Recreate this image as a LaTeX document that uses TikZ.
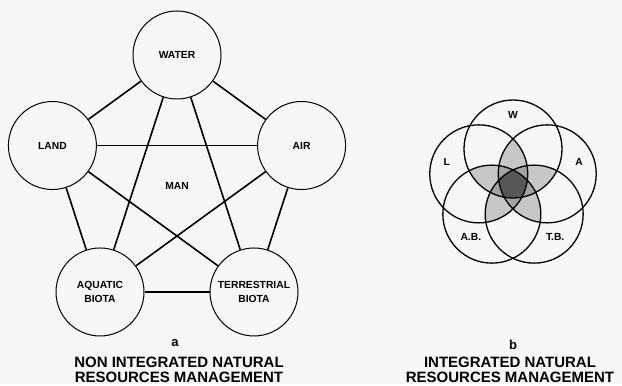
\documentclass[tikz,border=0pt]{standalone}
\usepackage{fontspec}
\setmainfont{Liberation Sans}
\usetikzlibrary{calc}

\begin{document}
\begin{tikzpicture}[x=1pt, y=1pt,
  every node/.style={font=\bfseries\fontsize{10.3}{14.5}\selectfont},
  res/.style={circle, draw, line width=1pt, minimum size=88pt, inner sep=0pt, align=center},
  link/.style={line width=1.6pt},
  ring/.style={line width=1.3pt},
  caption/.style={align=center, font=\bfseries\fontsize{15}{15}\selectfont}
]
\fill[black!3] (0,0) rectangle (622,384);

% a: non integrated
\node (man) at (177,198) {MAN};
\node [res] (water) at ($(man)+(90:131)$) {WATER};
\node [res] (land) at ($(man)+(162:131)$) {LAND};
\node [res] (air) at ($(man)+(18:131)$) {AIR};
\node [res] (aquatic) at ($(man)+(234:131)$) {AQUATIC\\BIOTA};
\node [res] (terrestrial) at ($(man)+(306:131)$) {TERRESTRIAL\\BIOTA};

\draw[link] (water) -- (land);
\draw[link] (water) -- (air);
\draw[link] (land) -- (aquatic);
\draw[link] (air) -- (terrestrial);
\draw[link] (aquatic) -- (terrestrial);
\draw[link] (land) -- (air);
\draw[link] (water) -- (aquatic);
\draw[link] (water) -- (terrestrial);
\draw[link] (land) -- (terrestrial);
\draw[link] (air) -- (aquatic);

\node (taga) at (175,41) {\fontsize{13}{15}\selectfont a};
\node [caption] (capa) at (179,14.5) {NON INTEGRATED NATURAL\\RESOURCES MANAGEMENT};

% b: integrated
\coordinate (venn) at (513,199);
\coordinate (w) at ($(venn)+(90:36)$);
\coordinate (l) at ($(venn)+(162:36)$);
\coordinate (a) at ($(venn)+(18:36)$);
\coordinate (ab) at ($(venn)+(234:36)$);
\coordinate (tb) at ($(venn)+(306:36)$);

\foreach \i/\j/\k in {w/l/a, w/l/ab, w/l/tb, w/a/ab, w/a/tb,
                      w/ab/tb, l/a/ab, l/a/tb, l/ab/tb, a/ab/tb} {
  \begin{scope}
    \clip (\i) circle (49pt);
    \clip (\j) circle (49pt);
    \fill[black!22] (\k) circle (49pt);
  \end{scope}
}
\foreach \i/\j/\k/\m in {l/a/ab/tb, w/a/ab/tb, w/l/ab/tb, w/l/a/tb, w/l/a/ab} {
  \begin{scope}
    \clip (\i) circle (49pt);
    \clip (\j) circle (49pt);
    \clip (\k) circle (49pt);
    \fill[black!36] (\m) circle (49pt);
  \end{scope}
}
\begin{scope}
  \clip (w) circle (49pt);
  \clip (l) circle (49pt);
  \clip (a) circle (49pt);
  \clip (ab) circle (49pt);
  \fill[black!66] (tb) circle (49pt);
\end{scope}

\draw[ring] (w) circle (49pt);
\draw[ring] (l) circle (49pt);
\draw[ring] (a) circle (49pt);
\draw[ring] (ab) circle (49pt);
\draw[ring] (tb) circle (49pt);

\node (tw) at ($(venn)+(90:70)$) {W};
\node (tl) at ($(venn)+(161:70)$) {L};
\node (ta) at ($(venn)+(19:70)$) {A};
\node (tab) at ($(venn)+(231:67)$) {A.B.};
\node (ttb) at ($(venn)+(309:67)$) {T.B.};

\node (tagb) at (513,39) {\fontsize{13}{15}\selectfont b};
\node [caption] (capb) at (510,14.5) {INTEGRATED NATURAL\\RESOURCES MANAGEMENT};
\end{tikzpicture}
\end{document}
